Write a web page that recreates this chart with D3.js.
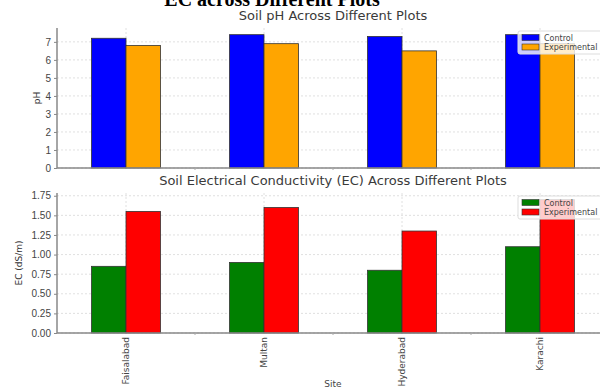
<!DOCTYPE html>
<html>
<head>
<meta charset="utf-8">
<script src="https://cdn.jsdelivr.net/npm/d3@7"></script>
<style>
  body { margin: 0; background: #fff; }
  svg { display: block; font-family: "DejaVu Sans", sans-serif; }
  .grid line { stroke: #d8d8d8; stroke-dasharray: 2,2; stroke-width: 0.8; }
  .tick text { fill: #444; }
</style>
</head>
<body>
<div id="chart"></div>
<script>
// sites on the x axis
var sites = ["Faisalabad", "Multan", "Hyderabad", "Karachi"];
var groups = ["Control", "Experimental"];

// pH values
var phControl = [7.2, 7.4, 7.3, 7.4];
var phExperimental = [6.8, 6.9, 6.5, 6.9];

// EC values (dS/m)
var ecControl = [0.85, 0.90, 0.80, 1.10];
var ecExperimental = [1.55, 1.60, 1.30, 1.70];

var phTicks = [0, 1, 2, 3, 4, 5, 6, 7];
var ecTicks = [0, 0.25, 0.5, 0.75, 1.0, 1.25, 1.5, 1.75];

var W = 600, H = 390;
var left = 57, right = 609;

var svg = d3.select("#chart").append("svg")
    .attr("width", W)
    .attr("height", H);

// figure title, cut off at the top like in the source image
svg.append("text")
    .attr("x", 272)
    .attr("y", 6)
    .attr("text-anchor", "middle")
    .style("font-family", "'Liberation Serif', serif")
    .style("font-weight", "bold")
    .style("font-size", "20px")
    .text("EC across Different Plots");

var x = d3.scaleBand().domain(sites).range([left, right]).paddingInner(0).paddingOuter(0);
var step = x.step();
var x1 = d3.scaleBand().domain(groups).range([step / 2 - step * 0.25, step / 2 + step * 0.25]);

var drawPanel = function(cfg) {
    var y = d3.scaleLinear()
        .domain([0, d3.max(cfg.control.concat(cfg.experimental)) * 1.05])
        .range([cfg.bottom, cfg.top]);

    var g = svg.append("g");

    // grid
    var grid = g.append("g").attr("class", "grid");
    grid.selectAll(".h").data(cfg.ticks).enter().append("line")
        .attr("x1", left).attr("x2", right)
        .attr("y1", function(d) { return y(d); })
        .attr("y2", function(d) { return y(d); });
    grid.selectAll(".v").data(sites).enter().append("line")
        .attr("x1", function(d) { return x(d) + step / 2; })
        .attr("x2", function(d) { return x(d) + step / 2; })
        .attr("y1", cfg.top).attr("y2", cfg.bottom);

    var rows = sites.map(function(s, i) {
        return {site: s, values: [cfg.control[i], cfg.experimental[i]]};
    });

    g.selectAll(".site").data(rows).enter().append("g")
        .attr("transform", function(d) { return "translate(" + x(d.site) + ",0)"; })
        .selectAll("rect")
        .data(function(d) { return d.values.map(function(v, j) { return {key: groups[j], value: v}; }); })
        .enter().append("rect")
        .attr("x", function(d) { return x1(d.key); })
        .attr("width", x1.bandwidth())
        .attr("y", function(d) { return y(d.value); })
        .attr("height", function(d) { return cfg.bottom - y(d.value); })
        .style("fill", function(d, j) { return cfg.colors[j]; })
        .style("stroke", "#333")
        .style("stroke-width", 0.8);

    // y axis
    var yAxis = g.append("g")
        .attr("transform", "translate(" + left + ",0)")
        .call(d3.axisLeft(y).tickValues(cfg.ticks).tickFormat(cfg.fmt).tickSize(3).tickPadding(3));
    yAxis.select(".domain").attr("d", "M0," + cfg.top + "V" + cfg.bottom).style("stroke", "#888").style("stroke-width", 1.5);
    yAxis.selectAll(".tick line").style("stroke", "#888");
    yAxis.selectAll(".tick text").style("font-size", "10px");

    // bottom spine
    g.append("line")
        .attr("x1", left).attr("x2", right)
        .attr("y1", cfg.bottom).attr("y2", cfg.bottom)
        .style("stroke", "#888").style("stroke-width", 1.5);
    g.selectAll(".xt").data(sites.slice(1)).enter().append("line")
        .attr("x1", function(d) { return x(d); })
        .attr("x2", function(d) { return x(d); })
        .attr("y1", cfg.bottom).attr("y2", cfg.bottom + 2)
        .style("stroke", "#aaa");

    // title
    g.append("text")
        .attr("x", (left + right) / 2)
        .attr("y", cfg.top - 8)
        .attr("text-anchor", "middle")
        .style("font-size", "13px")
        .style("fill", "#3a3a3a")
        .text(cfg.title);

    // y label
    g.append("text")
        .attr("transform", "translate(" + cfg.labelX + "," + (cfg.top + cfg.bottom) / 2 + ") rotate(-90)")
        .attr("text-anchor", "middle")
        .style("font-size", "9px")
        .style("fill", "#333")
        .text(cfg.ylabel);

    // legend
    var lg = g.append("g").attr("transform", "translate(518," + cfg.legendY + ")");
    lg.append("rect")
        .attr("width", 100).attr("height", 23).attr("rx", 2)
        .style("fill", "rgba(255,255,255,0.8)")
        .style("stroke", "#ddd");
    groups.forEach(function(k, j) {
        lg.append("rect")
            .attr("x", 4).attr("y", 3.5 + j * 9.5)
            .attr("width", 17).attr("height", 6)
            .style("fill", cfg.colors[j])
            .style("stroke", "#333").style("stroke-width", 0.6);
        lg.append("text")
            .attr("x", 26).attr("y", 9.5 + j * 9.5)
            .style("font-size", "8px")
            .style("fill", "#444")
            .text(k);
    });

    return g;
};

drawPanel({
    control: phControl, experimental: phExperimental, ticks: phTicks,
    fmt: d3.format("d"), top: 28, bottom: 168,
    colors: ["#0000ff", "#ffa500"],
    title: "Soil pH Across Different Plots", ylabel: "pH", labelX: 40, legendY: 31
});

drawPanel({
    control: ecControl, experimental: ecExperimental, ticks: ecTicks,
    fmt: d3.format(".2f"), top: 193, bottom: 333,
    colors: ["#008000", "#ff0000"],
    title: "Soil Electrical Conductivity (EC) Across Different Plots", ylabel: "EC (dS/m)", labelX: 22, legendY: 196
});

// x tick labels, rotated
svg.selectAll(".site-label").data(sites).enter().append("text")
    .attr("transform", function(d) { return "translate(" + (x(d) + step / 2 + 3) + ",337) rotate(-90)"; })
    .attr("text-anchor", "end")
    .style("font-size", "9px")
    .style("fill", "#444")
    .text(function(d) { return d; });

svg.append("text")
    .attr("x", 333)
    .attr("y", 387)
    .attr("text-anchor", "middle")
    .style("font-size", "9px")
    .style("fill", "#444")
    .text("Site");
</script>
</body>
</html>
